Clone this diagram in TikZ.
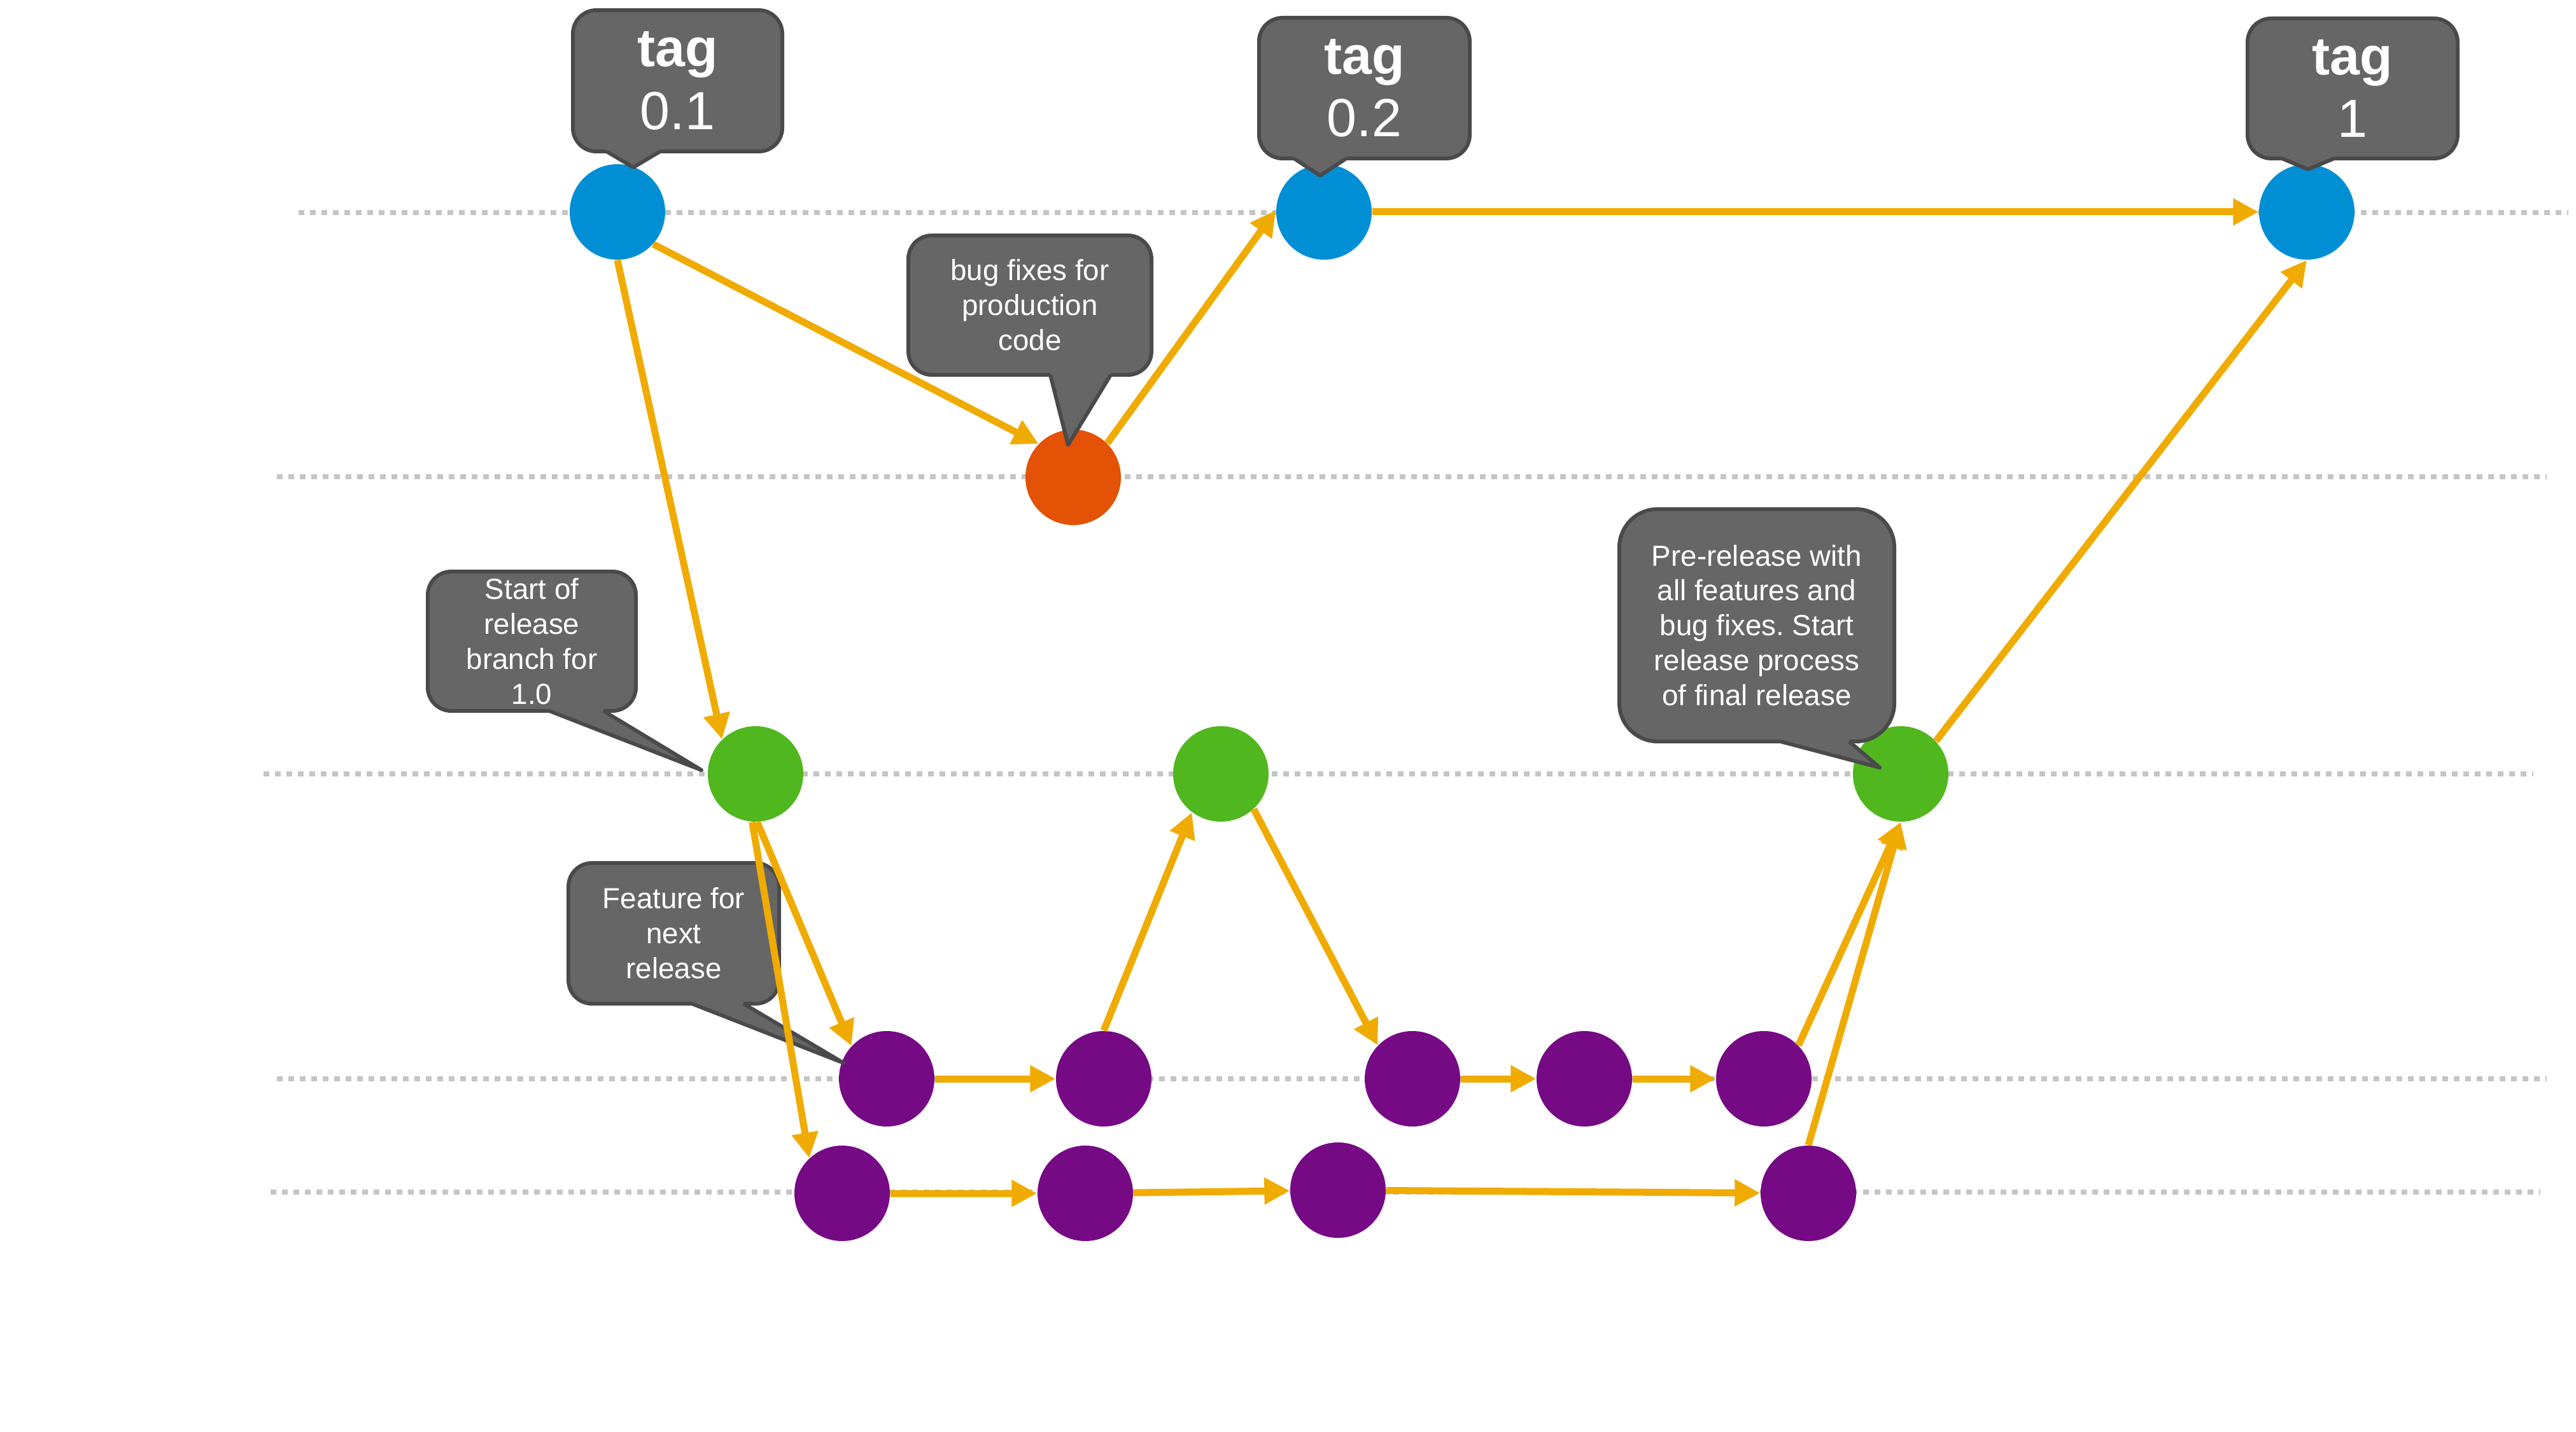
\documentclass[tikz,border=0pt]{standalone}
\usepackage{fontspec}
\setmainfont{Liberation Sans}
\frenchspacing
\usetikzlibrary{arrows.meta}
\definecolor{maincolor}{HTML}{008FD5}
\definecolor{hotfixcolor}{HTML}{E35205}
\definecolor{releasecolor}{HTML}{50B71F}
\definecolor{featurecolor}{HTML}{760A85}
\definecolor{flowcolor}{HTML}{F0AB00}
\definecolor{lanecolor}{HTML}{C5C5C5}
\definecolor{notefill}{HTML}{666666}
\definecolor{noteedge}{HTML}{4A4A4A}
% pointer under a note box: #1 box, #2/#3 base offsets from its south, #4 tip
\newcommand{\notetip}[4]{%
    \fill[notefill] ([xshift=#2,yshift=1mm]#1.south) -- ([xshift=#2]#1.south) -- #4
        -- ([xshift=#3]#1.south) -- ([xshift=#3,yshift=1mm]#1.south) -- cycle;
    \draw[noteedge, line width=1.7pt, line join=round] ([xshift=#2]#1.south) -- #4 -- ([xshift=#3]#1.south);
}

\begin{document}
\begin{tikzpicture}[
    commit/.style={circle, minimum size=1.5cm, inner sep=0pt, fill=#1},
    lane/.style={lanecolor, line width=0.85mm, dash pattern=on 0.9mm off 0.9mm},
    flow/.style={flowcolor, line width=1.1mm, -{Triangle[length=4mm,width=4mm]}},
    note/.style={fill=notefill, draw=noteedge, line width=1.7pt, rounded corners=3.7mm,
        outer sep=0pt, inner sep=0pt, text=white, align=center, font=\fontsize{13}{15.6}\selectfont},
    tagnote/.style={note, font=\fontsize{24}{28}\selectfont}
]
    \useasboundingbox (0,0) rectangle (40.47,-22.5);
    % --- branch lanes ---
    \foreach \y/\xa/\xb in {3.34/4.69/40.35, 7.49/4.35/40.01, 12.16/4.14/39.80, 16.95/4.35/40.01, 18.73/4.25/39.91}
        \draw[lane] (\xa,-\y) -- (\xb,-\y);
    % --- commits ---
    \node[commit=maincolor] (m1) at (9.70,-3.33) {};
    \node[commit=maincolor] (m2) at (20.80,-3.33) {};
    \node[commit=maincolor] (m3) at (36.24,-3.33) {};
    \node[commit=hotfixcolor] (hf) at (16.86,-7.50) {};
    \node[commit=releasecolor] (r1) at (11.87,-12.16) {};
    \node[commit=releasecolor] (r2) at (19.18,-12.16) {};
    \node[commit=releasecolor] (r3) at (29.86,-12.16) {};
    \foreach \n/\x in {1/13.93, 2/17.34, 3/22.19, 4/24.89, 5/27.71}
        \node[commit=featurecolor] (fa\n) at (\x,-16.95) {};
    \foreach \n/\x/\y in {1/13.23/18.75, 2/17.05/18.75, 3/21.02/18.70, 4/28.41/18.75}
        \node[commit=featurecolor] (fb\n) at (\x,-\y) {};
    % --- notes ---
    \node[tagnote, minimum width=3.29cm, minimum height=2.22cm] (tagA) at (10.645,-1.27) {\textbf{tag}\\0.1};
    \notetip{tagA}{-1.115cm}{-0.275cm}{(9.95,-2.63)}
    \node[tagnote, minimum width=3.31cm, minimum height=2.21cm] (tagB) at (21.435,-1.385) {\textbf{tag}\\0.2};
    \notetip{tagB}{-1.105cm}{-0.285cm}{(20.74,-2.76)}
    \node[tagnote, minimum width=3.30cm, minimum height=2.20cm] (tagC) at (36.96,-1.39) {\textbf{tag}\\1};
    \notetip{tagC}{-1.11cm}{-0.29cm}{(36.26,-2.66)}
    \node[note, minimum width=3.82cm, minimum height=2.19cm] (bugnote) at (16.18,-4.795) {bug fixes for\\production\\code};
    \notetip{bugnote}{0.32cm}{1.27cm}{(16.78,-6.99)}
    \node[note, minimum width=3.27cm, minimum height=2.19cm] (startnote) at (8.355,-10.075) {Start of\\release\\branch for\\1.0};
    \notetip{startnote}{0.275cm}{1.125cm}{(11.02,-12.10)}
    \node[note, minimum width=3.31cm, minimum height=2.21cm] (featnote) at (10.585,-14.665) {Feature for\\next\\release};
    \notetip{featnote}{0.285cm}{1.095cm}{(13.25,-16.70)}
    \node[note, rounded corners=6mm, minimum width=4.32cm, minimum height=3.65cm] (prenote) at (27.6,-9.825)
        {Pre-release with\\all features and\\bug fixes. Start\\release process\\of final release};
    \notetip{prenote}{0.37cm}{1.45cm}{(29.53,-12.06)}
    % --- history ---
    \draw[flow] (m1.-42) -- (hf.136);
    \draw[flow] (m1.south) -- (r1.134);
    \draw[flow] (hf.45) -- (m2.178);
    \draw[flow] (m2) -- (m3);
    \draw[flow] (r3.43) -- (m3.south);
    \draw[flow] (r1.-88) -- (fa1.137);
    \draw[flow] (r1.-94) -- (fb1.133);
    \draw[flow] (fa2.north) -- (r2.-127);
    \draw[flow] (r2.-47) -- (fa3.136);
    \draw[flow] (fa5.44) -- (r3.south);
    \draw[flow] (fb4.north) -- (r3.south);
    \foreach \a/\b in {fa1/fa2, fa3/fa4, fa4/fa5, fb1/fb2, fb2/fb3, fb3/fb4}
        \draw[flow] (\a) -- (\b);
\end{tikzpicture}
\end{document}
